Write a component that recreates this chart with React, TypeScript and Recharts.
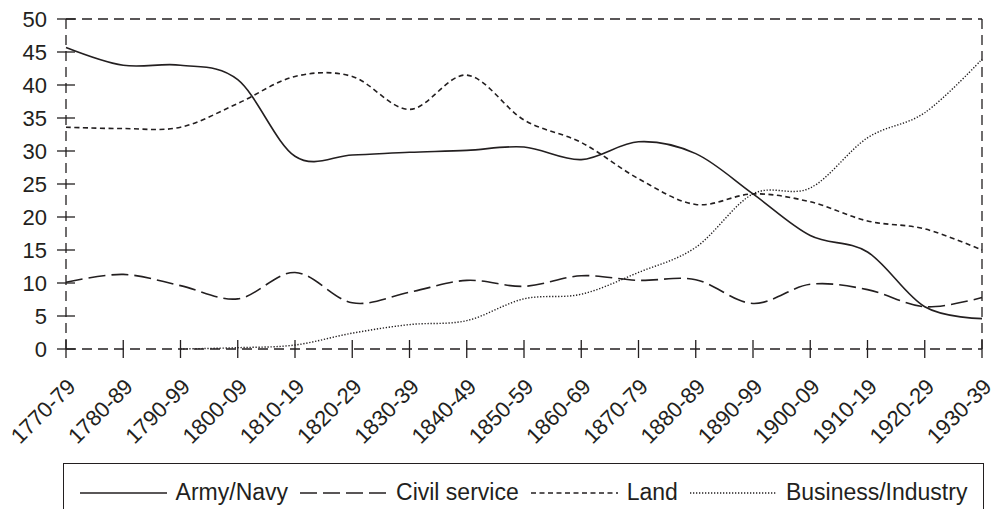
import { LineChart, Line, XAxis, YAxis, Legend, ReferenceLine } from "recharts";

const periods = [
  "1770-79", "1780-89", "1790-99", "1800-09", "1810-19", "1820-29", "1830-39", "1840-49", "1850-59",
  "1860-69", "1870-79", "1880-89", "1890-99", "1900-09", "1910-19", "1920-29", "1930-39",
];
const armyNavy = [45.7, 43, 43, 40.8, 29.2, 29.4, 29.8, 30.1, 30.6, 28.7, 31.4, 29.6, 23.5, 17.2, 14.7, 6.4, 4.6];
const civilService = [10.1, 11.3, 9.6, 7.6, 11.6, 7.0, 8.6, 10.4, 9.5, 11.1, 10.4, 10.5, 6.9, 9.8, 9.0, 6.4, 7.8];
const land = [33.6, 33.4, 33.6, 37.2, 41.3, 41.3, 36.3, 41.5, 34.7, 31.3, 25.8, 21.9, 23.5, 22.3, 19.4, 18.2, 15.0];
const business = [null, null, 0, 0.2, 0.6, 2.4, 3.7, 4.3, 7.6, 8.3, 11.6, 15.4, 23.5, 24.4, 32.0, 35.8, 43.9];
const yTicks = [0, 5, 10, 15, 20, 25, 30, 35, 40, 45, 50];

const data = periods.map((period, i) => ({
  period,
  army: armyNavy[i],
  civil: civilService[i],
  land: land[i],
  business: business[i],
}));

const INK = "#231f20";
const FONT = "'Liberation Sans', Arial, sans-serif";

const series = [
  { key: "army", name: "Army/Navy", dash: undefined as string | undefined, width: 1.6 },
  { key: "civil", name: "Civil service", dash: "17 6", width: 1.6 },
  { key: "land", name: "Land", dash: "5 3.5", width: 1.6 },
  { key: "business", name: "Business/Industry", dash: "1.3 1.7", width: 1.4 },
];

// Catmull-Rom style smoothing, like the spreadsheet "smoothed line"
function smooth(context: any) {
  const k = 1 / 6;
  let x0 = NaN, y0 = NaN, x1 = NaN, y1 = NaN, x2 = NaN, y2 = NaN, n = 0;
  const seg = (x: number, y: number) => {
    context.bezierCurveTo(
      x1 + k * (x2 - x0), y1 + k * (y2 - y0),
      x2 + k * (x1 - x), y2 + k * (y1 - y),
      x2, y2
    );
  };
  return {
    areaStart() {},
    areaEnd() {},
    lineStart() {
      x0 = x1 = x2 = y0 = y1 = y2 = NaN;
      n = 0;
    },
    lineEnd() {
      if (n === 2) context.lineTo(x2, y2);
      else if (n === 3) seg(x1, y1);
    },
    point(x: number, y: number) {
      x = +x; y = +y;
      if (n === 0) { n = 1; context.moveTo(x, y); }
      else if (n === 1) { n = 2; x1 = x; y1 = y; }
      else { n = 3; seg(x, y); }
      x0 = x1; x1 = x2; x2 = x;
      y0 = y1; y1 = y2; y2 = y;
    },
  };
}

const YTick = (props: any) => {
  const { x, y, payload } = props;
  return (
    <g>
      <line x1={x - 9} x2={x + 9} y1={y} y2={y} stroke={INK} strokeWidth={1.3} />
      <text x={x - 19} y={y} dy="0.36em" textAnchor="end" fill={INK} fontSize={22} fontFamily={FONT}>
        {payload.value}
      </text>
    </g>
  );
};

const XTick = (props: any) => {
  const { x, y, payload } = props;
  const tx = x + 11;
  const ty = y + 39;
  return (
    <g>
      <line x1={x} x2={x} y1={y - 9} y2={y + 9} stroke={INK} strokeWidth={1.3} />
      <text x={tx} y={ty} textAnchor="end" fill={INK} fontSize={22} fontFamily={FONT} transform={`rotate(-45 ${tx} ${ty})`}>
        {payload.value}
      </text>
    </g>
  );
};

const LegendBox = () => (
  <div
    style={{
      height: 46,
      boxSizing: "border-box",
      borderTop: `1.3px solid ${INK}`,
      borderLeft: `1.3px solid ${INK}`,
      borderRight: `1.3px solid ${INK}`,
      display: "flex",
      justifyContent: "center",
      alignItems: "center",
      paddingTop: 12,
      fontFamily: FONT,
      fontSize: 23,
      color: INK,
    }}
  >
    {series.map((s, i) => (
      <div key={s.key} style={{ display: "flex", alignItems: "center", marginLeft: i === 0 ? 0 : 12 }}>
        <svg width={87} height={10} style={{ marginRight: 9 }}>
          <line x1={0} x2={87} y1={5} y2={5} stroke={INK} strokeWidth={s.width} strokeDasharray={s.dash} />
        </svg>
        <span>{s.name}</span>
      </div>
    ))}
  </div>
);

export default function App() {
  return (
    <div style={{ position: "absolute", left: 0, top: 0 }}>
      <LineChart width={997} height={509} data={data} margin={{ top: 19, right: 15, left: 8, bottom: 0 }}>
        <XAxis
          dataKey="period"
          height={114}
          interval={0}
          tickSize={0}
          tickMargin={0}
          tick={<XTick />}
          axisLine={{ stroke: INK, strokeWidth: 1.3, strokeDasharray: "10 6" }}
          tickLine={false}
        />
        <YAxis
          width={58}
          domain={[0, 50]}
          ticks={yTicks}
          interval={0}
          tickSize={0}
          tickMargin={0}
          tick={<YTick />}
          axisLine={{ stroke: INK, strokeWidth: 1.3, strokeDasharray: "10 6" }}
          tickLine={false}
        />
        <ReferenceLine y={50} stroke={INK} strokeWidth={1.3} strokeDasharray="10 6" />
        <ReferenceLine x="1930-39" stroke={INK} strokeWidth={1.3} strokeDasharray="10 6" />
        <Legend verticalAlign="bottom" content={<LegendBox />} wrapperStyle={{ left: 63, width: 921, bottom: 0 }} />
        {series.map((s) => (
          <Line
            key={s.key}
            dataKey={s.key}
            name={s.name}
            type={smooth as any}
            stroke={INK}
            strokeWidth={s.width}
            strokeDasharray={s.dash}
            dot={false}
            activeDot={false}
            isAnimationActive={false}
          />
        ))}
      </LineChart>
    </div>
  );
}
